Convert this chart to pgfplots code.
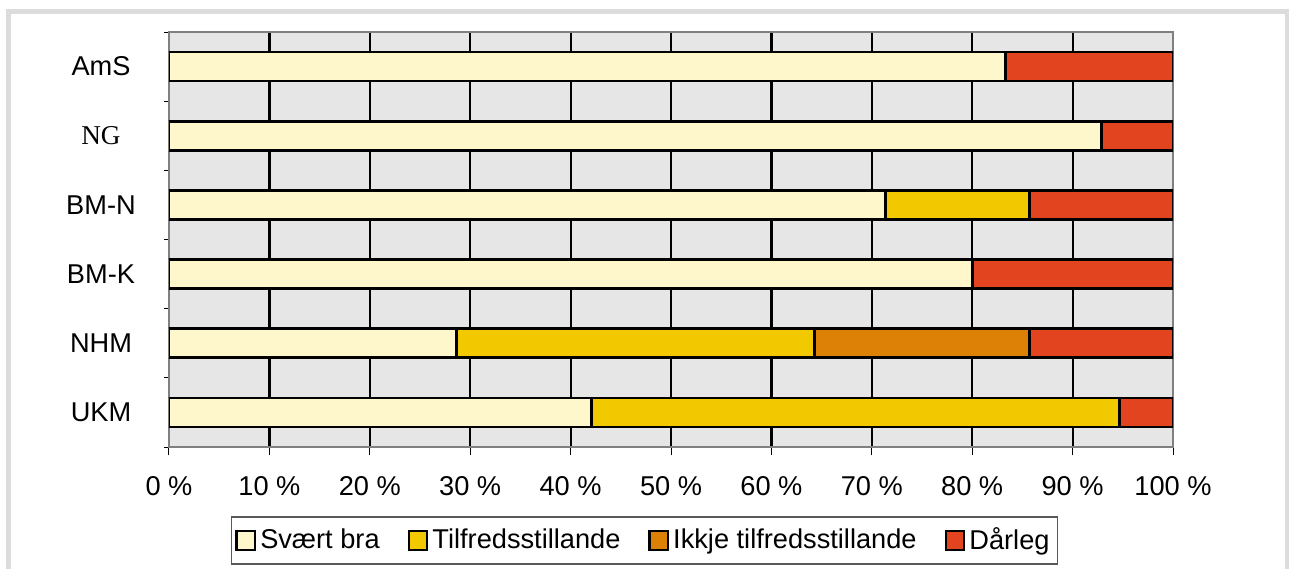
\documentclass[border=0pt]{standalone}
\usepackage{pgfplots}
\pgfplotsset{compat=1.18}
\usepackage{fontspec}
\setmainfont{Liberation Sans}
\newfontfamily\serif{Liberation Serif}

\definecolor{cream}{HTML}{FFF7CC}
\definecolor{yel}{HTML}{F2C900}
\definecolor{org}{HTML}{DC8106}
\definecolor{rd}{HTML}{E34420}
\definecolor{bg}{HTML}{E6E6E6}
\definecolor{frame}{HTML}{DCDCDC}

\begin{document}
\begin{tikzpicture}[font=\fontsize{13.6}{16}\selectfont]
% 1 px of the reference = 0.5pt
\begin{scope}[x=0.5pt,y=-0.5pt]
  \useasboundingbox (0,0) rectangle (1289,568);
  \draw[line width=2.5pt, draw=frame] (8.5,11.5) rectangle (1287,600);
\end{scope}
\begin{axis}[
    at={(84.5pt,-223.5pt)}, anchor=south west,
    scale only axis,
    width=502pt, height=207.5pt,
    xbar stacked,
    bar width=14.5pt,
    xmin=0, xmax=100,
    ymin=-0.5, ymax=5.5,
    xtick={0,10,...,100},
    xticklabels={0 \%,10 \%,20 \%,30 \%,40 \%,50 \%,60 \%,70 \%,80 \%,90 \%,100 \%},
    ytick={0,...,5},
    yticklabels={UKM,NHM,BM-K,BM-N,{\serif NG},AmS},
    minor ytick={-0.5,0.5,...,5.5},
    xtick pos=lower, ytick pos=left,
    tick align=outside,
    major tick length=4pt,
    minor tick length=2.5pt,
    every major y tick/.style={draw=none},
    every minor y tick/.style={draw=black, line width=0.5pt},
    every major x tick/.style={draw=black, line width=0.5pt},
    xmajorgrids,
    major grid style={black, line width=1.1pt},
    axis background/.style={fill=bg},
    axis line style={draw=gray, line width=1pt},
    tick label style={font=\fontsize{13.6}{16}\selectfont},
    yticklabel style={anchor=center, xshift=-30pt},
    xticklabel style={yshift=-7pt},
    legend columns=4,
    legend style={at={(0.4736,-0.2253)}, anchor=center,
        draw=gray!70!black, line width=0.6pt,
        font=\fontsize{13.6}{16}\selectfont,
        inner xsep=2pt, inner ysep=3.5pt,
        /tikz/every odd column/.append style={column sep=0pt},
        /tikz/every even column/.append style={column sep=12pt}},
    legend image code/.code={
        \draw[#1, line width=1.2pt] (0pt,-4.7pt) rectangle (9.2pt,4.7pt);},
]
\addplot[fill=cream, draw=black, line width=1.4pt] coordinates {(42.1,0) (28.6,1) (80,2) (71.4,3) (92.9,4) (83.3,5)};
\addplot[fill=yel, draw=black, line width=1.4pt] coordinates {(52.6,0) (35.7,1) (0,2) (14.3,3) (0,4) (0,5)};
\addplot[fill=org, draw=black, line width=1.4pt] coordinates {(0,0) (21.4,1) (0,2) (0,3) (0,4) (0,5)};
\addplot[fill=rd, draw=black, line width=1.4pt] coordinates {(5.3,0) (14.3,1) (20,2) (14.3,3) (7.1,4) (16.7,5)};
\legend{Svært bra,Tilfredsstillande,Ikkje tilfredsstillande,Dårleg}
\end{axis}
\end{tikzpicture}
\end{document}
